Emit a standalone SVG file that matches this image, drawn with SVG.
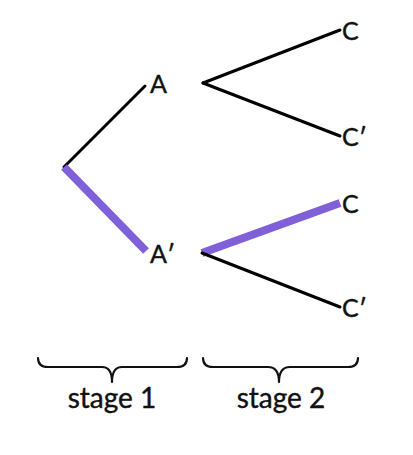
<svg xmlns="http://www.w3.org/2000/svg" width="413" height="455" viewBox="0 0 413 455">
<style>
.t{font-family:Lato,"Noto Sans",sans-serif;fill:#111;stroke:#111;stroke-width:0.4;}
.lbl{font-size:25px;}
.stg{font-size:28px;text-anchor:middle;}
.e{stroke:#000;stroke-width:3;stroke-linecap:round;fill:none;}
.h{stroke:#8060d8;stroke-width:8;stroke-linecap:butt;fill:none;}
.br{stroke:#111;stroke-width:2.2;fill:none;stroke-linecap:round;stroke-linejoin:round;}
</style>
<rect width="413" height="455" fill="#fff"/>
<g id="connectors">
<line class="e" x1="64" y1="167" x2="145" y2="86"/>
<line class="h" x1="64" y1="167" x2="146" y2="251"/>
<line class="e" x1="203" y1="83" x2="340" y2="30"/>
<line class="e" x1="203" y1="83" x2="340" y2="136"/>
<line class="h" x1="202" y1="253" x2="340" y2="203"/>
<line class="e" x1="202" y1="253" x2="340" y2="307"/>
</g>
<g id="node-A"><text class="t lbl" x="150" y="93">A</text></g>
<g id="node-A-prime"><text class="t lbl" x="150" y="263">A′</text></g>
<g id="node-C1"><text class="t lbl" x="342" y="40">C</text></g>
<g id="node-C1-prime"><text class="t lbl" x="342" y="146">C′</text></g>
<g id="node-C2"><text class="t lbl" x="342" y="213">C</text></g>
<g id="node-C2-prime"><text class="t lbl" x="342" y="317">C′</text></g>
<g id="brace-1">
<path class="br" d="M38 358 Q38 367 48 367 L102 367 Q112 367 112 382 Q112 367 122 367 L177 367 Q187 367 187 358"/>
<text class="t stg" x="112" y="408">stage 1</text>
</g>
<g id="brace-2">
<path class="br" d="M203 358 Q203 367 213 367 L268 367 Q279 367 279 382 Q279 367 290 367 L348 367 Q358 367 358 358"/>
<text class="t stg" x="281" y="408">stage 2</text>
</g>
</svg>
